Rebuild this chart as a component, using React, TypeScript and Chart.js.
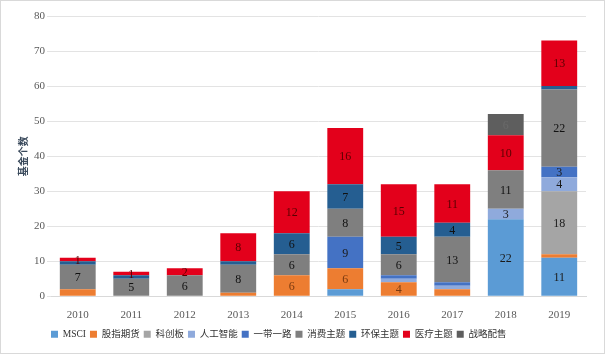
import React, { useEffect, useRef } from "react";
import { Chart, registerables } from "chart.js";

Chart.register(...registerables);

const years = ["2010", "2011", "2012", "2013", "2014", "2015", "2016", "2017", "2018", "2019"];
const seriesNames = ["MSCI", "股指期货", "科创板", "人工智能", "一带一路", "消费主题", "环保主题", "医疗主题", "战略配售"];
const msci = [0, 0, 0, 0, 0, 2, 0, 0, 22, 11];
const stockIndexFutures = [2, 0, 0, 1, 6, 6, 4, 2, 0, 1];
const starMarket = [0, 0, 0, 0, 0, 0, 0, 0, 0, 18];
const ai = [0, 0, 0, 0, 0, 0, 1, 1, 3, 4];
const beltRoad = [0, 0, 0, 0, 0, 9, 1, 1, 0, 3];
const consumer = [7, 5, 6, 8, 6, 8, 6, 13, 11, 22];
const environment = [1, 1, 0, 1, 6, 7, 5, 4, 0, 1];
const medical = [1, 1, 2, 8, 12, 16, 15, 11, 10, 13];
const strategic = [0, 0, 0, 0, 0, 0, 0, 0, 6, 0];
const yTicks = [0, 10, 20, 30, 40, 50, 60, 70, 80];

const seriesValues = [msci, stockIndexFutures, starMarket, ai, beltRoad, consumer, environment, medical, strategic];
const colors = ["#5B9BD5", "#ED7D31", "#A5A5A5", "#8FAADC", "#4472C4", "#7F7F7F", "#255E91", "#E3001B", "#5E5E5E"];
const labelColors = ["#1a1a1a", "#7a3a10", "#1a1a1a", "#1a1a1a", "#1a1a1a", "#111", "#111", "#5a0000", "#6a6a6a"];

const FONT = "'Liberation Serif', 'Noto Sans CJK SC', serif";

const labelPlugin = {
  id: "barLabels",
  afterLayout(chart: any) {
    const lg = chart.legend;
    if (lg) {
      const shift = 46 - lg.left;
      lg.left += shift;
      lg.right += shift;
    }
  },
  afterDatasetsDraw(chart: any) {
    const ctx = chart.ctx;
    ctx.save();
    ctx.font = `12px ${FONT}`;
    ctx.textAlign = "center";
    ctx.textBaseline = "middle";
    chart.data.datasets.forEach((ds: any, di: number) => {
      const meta = chart.getDatasetMeta(di);
      meta.data.forEach((bar: any, i: number) => {
        const v = ds.data[i];
        if (!v) return;
        const show = v >= 3 || di === 7;
        if (!show) return;
        ctx.fillStyle = labelColors[di];
        const y = (bar.y + bar.base) / 2;
        ctx.fillText(String(v), bar.x, y + 1);
      });
    });
    ctx.restore();
  },
};

export default function App() {
  const ref = useRef<HTMLCanvasElement>(null);
  useEffect(() => {
    document.body.style.margin = "0";
    const chart = new Chart(ref.current!, {
      type: "bar",
      data: {
        labels: years,
        datasets: seriesNames.map((name, i) => ({
          label: name,
          data: seriesValues[i],
          backgroundColor: colors[i],
          borderWidth: 0,
          categoryPercentage: 1,
          barPercentage: 0.67,
        })),
      },
      options: {
        animation: false,
        responsive: false,
        maintainAspectRatio: false,
        layout: { padding: { left: 16, right: 18, top: 15, bottom: 4 } },
        plugins: {
          tooltip: { enabled: false },
          legend: {
            position: "bottom",
            align: "start",
            labels: {
              boxWidth: 7,
              boxHeight: 7,
              padding: 4,
              color: "#333",
              font: { family: FONT, size: 9.5 },
            },
          },
        },
        scales: {
          x: {
            stacked: true,
            grid: { display: false },
            border: { color: "#d9d9d9" },
            ticks: { color: "#595959", font: { family: FONT, size: 11 }, padding: 4 },
          },
          y: {
            stacked: true,
            min: 0,
            max: 80,
            afterFit: (axis: any) => {
              axis.width = 34;
            },
            afterBuildTicks: (axis: any) => {
              axis.ticks = yTicks.map((v) => ({ value: v }));
            },
            grid: { color: "#e3e3e3", drawTicks: true, tickLength: 4, tickColor: "#e3e3e3" },
            border: { display: false },
            ticks: { color: "#595959", font: { family: FONT, size: 11 }, padding: 2 },
            title: {
              display: true,
              text: "基金个数",
              color: "#3a4a5c",
              font: { family: "'Noto Sans CJK SC', sans-serif", size: 10, weight: "bold" },
              padding: { top: 0, bottom: 0 },
            },
          },
        },
      },
      plugins: [labelPlugin],
    });
    return () => chart.destroy();
  }, []);
  return (
    <div
      style={{
        position: "absolute",
        left: 0,
        top: 0,
        width: 603,
        height: 352,
        border: "1px solid #d9d9d9",
        background: "#fff",
      }}
    >
      <canvas ref={ref} width={603} height={352} style={{ display: "block" }} />
    </div>
  );
}
